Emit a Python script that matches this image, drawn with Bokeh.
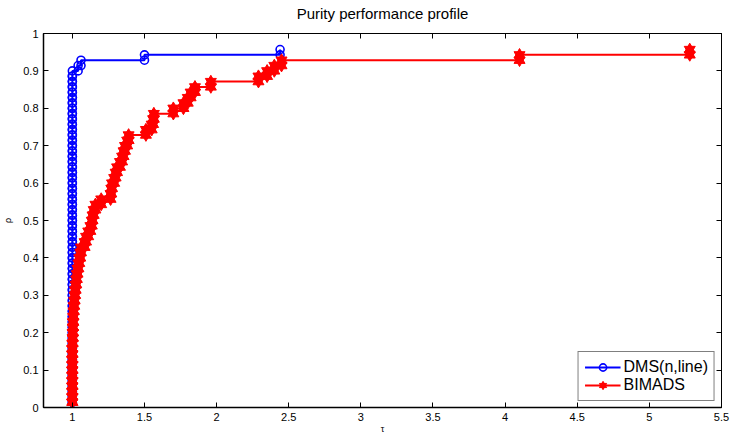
import numpy as np
from bokeh.plotting import figure
from bokeh.models import Range1d, FixedTicker, LinearAxis, Legend, LegendItem
from bokeh.embed import file_html
from bokeh.resources import INLINE

# ---- data ----
n_problems = 70
dms_ratios = [1.0] * 63 + [1.04, 1.06, 1.50, 2.44]
bimads_ratios = ([1.0] * 12 +
                 [1.002, 1.003, 1.004, 1.005, 1.006,
                  1.008, 1.010, 1.013, 1.016, 1.019, 1.023,
                  1.027, 1.031, 1.036, 1.042, 1.048, 1.055,
                  1.060, 1.085, 1.095, 1.110, 1.125, 1.135, 1.140, 1.148, 1.160,
                  1.200, 1.265, 1.270, 1.275, 1.290, 1.300, 1.310, 1.330, 1.345,
                  1.355, 1.365, 1.380, 1.390,
                  1.510, 1.550, 1.560, 1.565,
                  1.700, 1.770, 1.800, 1.820, 1.850,
                  1.960, 2.290, 2.350, 2.400, 2.450, 4.100, 5.280])
x_ticks = [1, 1.5, 2, 2.5, 3, 3.5, 4, 4.5, 5, 5.5]
x_tick_labels = ["1", "1.5", "2", "2.5", "3", "3.5", "4", "4.5", "5", "5.5"]
y_ticks = [0, 0.1, 0.2, 0.3, 0.4, 0.5, 0.6, 0.7, 0.8, 0.9, 1]
y_tick_labels = ["0", "0.1", "0.2", "0.3", "0.4", "0.5", "0.6", "0.7", "0.8", "0.9", "1"]
title_text = "Purity performance profile"


def stairs(ratios, n):
    r = np.sort(np.asarray(ratios, dtype=float))
    rho = np.arange(1, len(r) + 1) / n
    xs, ys = [r[0]], [rho[0]]
    for i in range(1, len(r)):
        xs += [r[i], r[i]]
        ys += [rho[i - 1], rho[i]]
    return xs, ys


FONT = "Liberation Sans"

p = figure(width=730, height=436, output_backend="svg", toolbar_location=None,
           x_range=Range1d(0.8, 5.5), y_range=Range1d(0, 1),
           min_border_left=43, min_border_right=9, min_border_top=33, min_border_bottom=28)
p.title = None
p.background_fill_color = "white"
p.border_fill_color = "white"
p.outline_line_color = "black"
p.outline_line_width = 1
p.grid.visible = False

xlabels = dict(zip(x_ticks, x_tick_labels))
ylabels = dict(zip(y_ticks, y_tick_labels))

for ax in p.xaxis:
    ax.ticker = FixedTicker(ticks=x_ticks)
    ax.major_label_overrides = xlabels
    ax.axis_label = "τ"
    ax.axis_label_text_font_size = "9px"
    ax.axis_label_standoff = 0
    ax.major_label_standoff = 5
for ax in p.yaxis:
    ax.ticker = FixedTicker(ticks=y_ticks)
    ax.major_label_overrides = ylabels
    ax.axis_label = "ρ"
    ax.axis_label_text_font_size = "9px"
    ax.axis_label_standoff = 7
    ax.major_label_standoff = 5

for ax in list(p.xaxis) + list(p.yaxis):
    ax.major_label_text_font = FONT
    ax.major_label_text_font_size = "11px"
    ax.major_label_text_color = "black"
    ax.axis_label_text_font = FONT
    ax.axis_label_text_font_style = "normal"
    ax.axis_label_text_color = "black"
    ax.major_tick_in = 5
    ax.major_tick_out = 0
    ax.minor_tick_line_color = None
    ax.axis_line_color = "black"
    ax.axis_line_width = 1.5
    ax.major_tick_line_color = "black"

# box ticks on top (carrying the title as its label) and right (no labels)
top = LinearAxis(ticker=FixedTicker(ticks=x_ticks),
                 major_label_overrides={t: "" for t in x_ticks},
                 major_tick_in=5, major_tick_out=0, minor_tick_line_color=None,
                 major_label_standoff=0, axis_line_color="black",
                 axis_label=title_text, axis_label_standoff=12,
                 axis_label_text_font=FONT, axis_label_text_font_size="15px",
                 axis_label_text_font_style="normal", axis_label_text_color="black")
right = LinearAxis(ticker=FixedTicker(ticks=y_ticks),
                   major_label_overrides={t: "" for t in y_ticks},
                   major_tick_in=5, major_tick_out=0, minor_tick_line_color=None,
                   major_label_standoff=0, axis_line_color="black")
p.add_layout(top, "above")
p.add_layout(right, "right")

bx, by = stairs(dms_ratios, n_problems)
rx, ry = stairs(bimads_ratios, n_problems)

bl = p.line(bx, by, line_color="#0000ff", line_width=2)
bm = p.scatter(bx, by, marker="circle", size=8, fill_color=None,
               line_color="#0000ff", line_width=1.6)

rl = p.line(rx, ry, line_color="#ff0000", line_width=2)
rm1 = p.scatter(rx, ry, marker="triangle", size=11, fill_color="#ff0000",
                line_color="#ff0000", line_width=1)
rm2 = p.scatter(rx, ry, marker="inverted_triangle", size=11, fill_color="#ff0000",
                line_color="#ff0000", line_width=1)

legend = Legend(items=[LegendItem(label="DMS(n,line)", renderers=[bl, bm]),
                       LegendItem(label="BIMADS", renderers=[rl, rm1, rm2])],
                location="bottom_right")
legend.margin = 6
legend.padding = 6
legend.spacing = 0
legend.glyph_width = 36
legend.glyph_height = 18
legend.label_height = 18
legend.label_standoff = 3
legend.label_text_font = FONT
legend.label_text_font_size = "16px"
legend.label_text_color = "black"
legend.border_line_color = "black"
legend.border_line_width = 1
legend.background_fill_color = "white"
legend.background_fill_alpha = 1
p.add_layout(legend, "center")

open("out.html", "w").write(file_html(p, INLINE))
